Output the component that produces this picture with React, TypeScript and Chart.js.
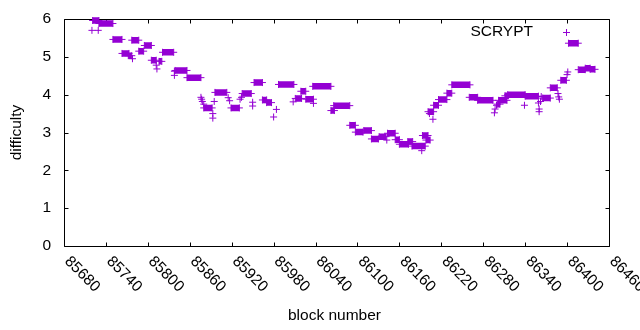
import React, { useEffect, useRef } from "react";
import { Chart, registerables } from "chart.js";
Chart.register(...registerables);

// Runs of blocks sharing one difficulty value: start block, end block, difficulty
const segStart = [85721, 85730, 85750, 85763, 85772, 85777, 85787, 85795, 85805, 85816, 85821, 85839, 85856, 85880, 85896, 85919, 85935, 85952, 85964, 85970, 85987, 86011, 86019, 86026, 86036, 86062, 86066, 86089, 86097, 86109, 86120, 86131, 86143, 86154, 86160, 86172, 86178, 86193, 86198, 86201, 86209, 86216, 86228, 86235, 86260, 86272, 86300, 86302, 86311, 86315, 86340, 86365, 86376, 86391, 86402, 86416, 86426, 86433];
const segEnd = [85730, 85750, 85763, 85773, 85777, 85787, 85794, 85805, 85812, 85820, 85837, 85856, 85876, 85892, 85913, 85931, 85948, 85964, 85970, 85977, 86009, 86020, 86026, 86037, 86062, 86067, 86089, 86097, 86108, 86120, 86130, 86141, 86154, 86160, 86173, 86179, 86197, 86201, 86204, 86209, 86216, 86228, 86235, 86261, 86272, 86294, 86304, 86314, 86316, 86340, 86359, 86376, 86386, 86399, 86416, 86426, 86433, 86440];
const segDiff = [5.96, 5.88, 5.46, 5.09, 5.03, 5.44, 5.15, 5.30, 4.91, 4.88, 5.12, 4.64, 4.45, 3.65, 4.06, 3.65, 4.03, 4.32, 3.86, 3.79, 4.27, 3.90, 4.09, 3.88, 4.22, 3.58, 3.71, 3.19, 3.01, 3.05, 2.83, 2.89, 2.98, 2.81, 2.69, 2.76, 2.64, 2.92, 2.80, 3.55, 3.72, 3.87, 4.04, 4.26, 3.93, 3.85, 3.75, 3.85, 3.97, 4.00, 3.96, 3.91, 4.18, 4.38, 5.36, 4.66, 4.70, 4.67];

// Single blocks
const ptBlock = [85720, 85729, 85778, 85812, 85813, 85838, 85838, 85876, 85877, 85878, 85880, 85893, 85893, 85895, 85915, 85917, 85932, 85934, 85950, 85950, 85980, 85984, 86008, 86037, 86142, 86192, 86203, 86208, 86296, 86297, 86299, 86339, 86359, 86360, 86360, 86362, 86363, 86387, 86388, 86389, 86400, 86401];
const ptDiff = [5.70, 5.70, 4.95, 4.78, 4.68, 4.62, 4.51, 3.93, 3.88, 3.82, 3.75, 3.50, 3.38, 3.82, 3.92, 3.84, 3.88, 3.93, 3.80, 3.70, 3.41, 3.61, 3.81, 3.77, 2.80, 2.52, 3.50, 3.35, 3.52, 3.62, 3.72, 3.72, 3.78, 3.62, 3.55, 3.82, 3.95, 4.03, 3.94, 3.88, 4.53, 4.60];

const xTicks = [85680, 85740, 85800, 85860, 85920, 85980, 86040, 86100, 86160, 86220, 86280, 86340, 86400, 86460];
const yTicks = [0, 1, 2, 3, 4, 5, 6];
const seriesName = "SCRYPT";
const xTitle = "block number";
const yTitle = "difficulty";

const COLOR = "#9400d3";
const FONT = '15.5px "Liberation Sans", Arial, sans-serif';

const gpPlugin = {
  id: "gpAxes",
  beforeDatasetsDraw(chart: any) {
    const { ctx, chartArea: a, scales } = chart;
    const L = Math.floor(a.left) + 0.5;
    const R = Math.floor(a.right) + 0.5;
    const T = Math.floor(a.top) + 0.5;
    const B = Math.floor(a.bottom) + 0.5;
    ctx.save();
    ctx.strokeStyle = "#000";
    ctx.lineWidth = 1;
    ctx.beginPath();
    ctx.rect(L, T, R - L, B - T);
    const tl = 4;
    xTicks.forEach((v) => {
      const x = Math.round(scales.x.getPixelForValue(v)) + 0.5;
      ctx.moveTo(x, B);
      ctx.lineTo(x, B - tl);
      ctx.moveTo(x, T);
      ctx.lineTo(x, T + tl);
    });
    yTicks.forEach((v) => {
      const y = Math.round(scales.y.getPixelForValue(v)) + 0.5;
      ctx.moveTo(L, y);
      ctx.lineTo(L + tl, y);
      ctx.moveTo(R, y);
      ctx.lineTo(R - tl, y);
    });
    ctx.stroke();
    ctx.restore();
  },
  afterDraw(chart: any) {
    const { ctx, chartArea: a, scales } = chart;
    ctx.save();
    ctx.fillStyle = "#000";
    ctx.font = FONT;
    // y tick labels
    ctx.textAlign = "right";
    ctx.textBaseline = "middle";
    yTicks.forEach((v) => {
      ctx.fillText(String(v), a.left - 13, scales.y.getPixelForValue(v));
    });
    // x tick labels rotated by -45 (clockwise)
    xTicks.forEach((v) => {
      const x = scales.x.getPixelForValue(v);
      ctx.save();
      ctx.translate(x + 3, a.bottom + 13);
      ctx.rotate(Math.PI / 4);
      ctx.textAlign = "left";
      ctx.textBaseline = "middle";
      ctx.fillText(String(v), 0, 0);
      ctx.restore();
    });
    // axis titles
    ctx.textAlign = "center";
    ctx.textBaseline = "middle";
    ctx.fillText(xTitle, (a.left + a.right) / 2 - 2, 316);
    ctx.save();
    ctx.translate(17, (a.top + a.bottom) / 2);
    ctx.rotate(-Math.PI / 2);
    ctx.fillText(yTitle, 0, 0);
    ctx.restore();
    // key
    ctx.textAlign = "right";
    ctx.fillText(seriesName, a.right - 76, a.top + 13);
    ctx.strokeStyle = COLOR;
    ctx.lineWidth = 1;
    const sx = a.right - 42.5;
    const sy = a.top + 13.5;
    ctx.beginPath();
    ctx.moveTo(sx - 3.5, sy);
    ctx.lineTo(sx + 3.5, sy);
    ctx.moveTo(sx, sy - 3.5);
    ctx.lineTo(sx, sy + 3.5);
    ctx.stroke();
    ctx.restore();
  },
};

export default function App() {
  const ref = useRef<HTMLCanvasElement>(null);
  useEffect(() => {
    if (!ref.current) return;
    const segData: any[] = [];
    segStart.forEach((s, i) => {
      segData.push({ x: s, y: segDiff[i] });
      segData.push({ x: segEnd[i], y: segDiff[i] });
      segData.push({ x: segEnd[i], y: null });
    });
    const ptData = ptBlock.map((b, i) => ({ x: b, y: ptDiff[i] }));
    const chart = new Chart(ref.current, {
      type: "scatter",
      data: {
        datasets: [
          {
            label: seriesName,
            data: segData,
            showLine: true,
            spanGaps: false,
            borderColor: COLOR,
            backgroundColor: COLOR,
            borderWidth: 6.5,
            borderCapStyle: "butt",
            pointStyle: "cross",
            pointRadius: 3.5,
            pointBorderWidth: 1,
            pointBorderColor: COLOR,
            clip: false,
          } as any,
          {
            label: seriesName,
            data: ptData,
            showLine: false,
            borderColor: COLOR,
            backgroundColor: COLOR,
            pointStyle: "cross",
            pointRadius: 3.5,
            pointBorderWidth: 1,
            pointBorderColor: COLOR,
            clip: false,
          } as any,
        ],
      },
      options: {
        animation: false,
        responsive: true,
        maintainAspectRatio: false,
        devicePixelRatio: 1,
        events: [],
        layout: { padding: { left: 64, right: 31, top: 19, bottom: 84 } },
        plugins: { legend: { display: false }, tooltip: { enabled: false } },
        scales: {
          x: { type: "linear", min: 85680, max: 86460, display: false },
          y: { type: "linear", min: 0, max: 6, display: false },
        },
      },
      plugins: [gpPlugin],
    });
    return () => chart.destroy();
  }, []);
  return (
    <div style={{ position: "absolute", left: 0, top: 0, width: 640, height: 330, background: "#fff" }}>
      <canvas ref={ref} />
    </div>
  );
}
